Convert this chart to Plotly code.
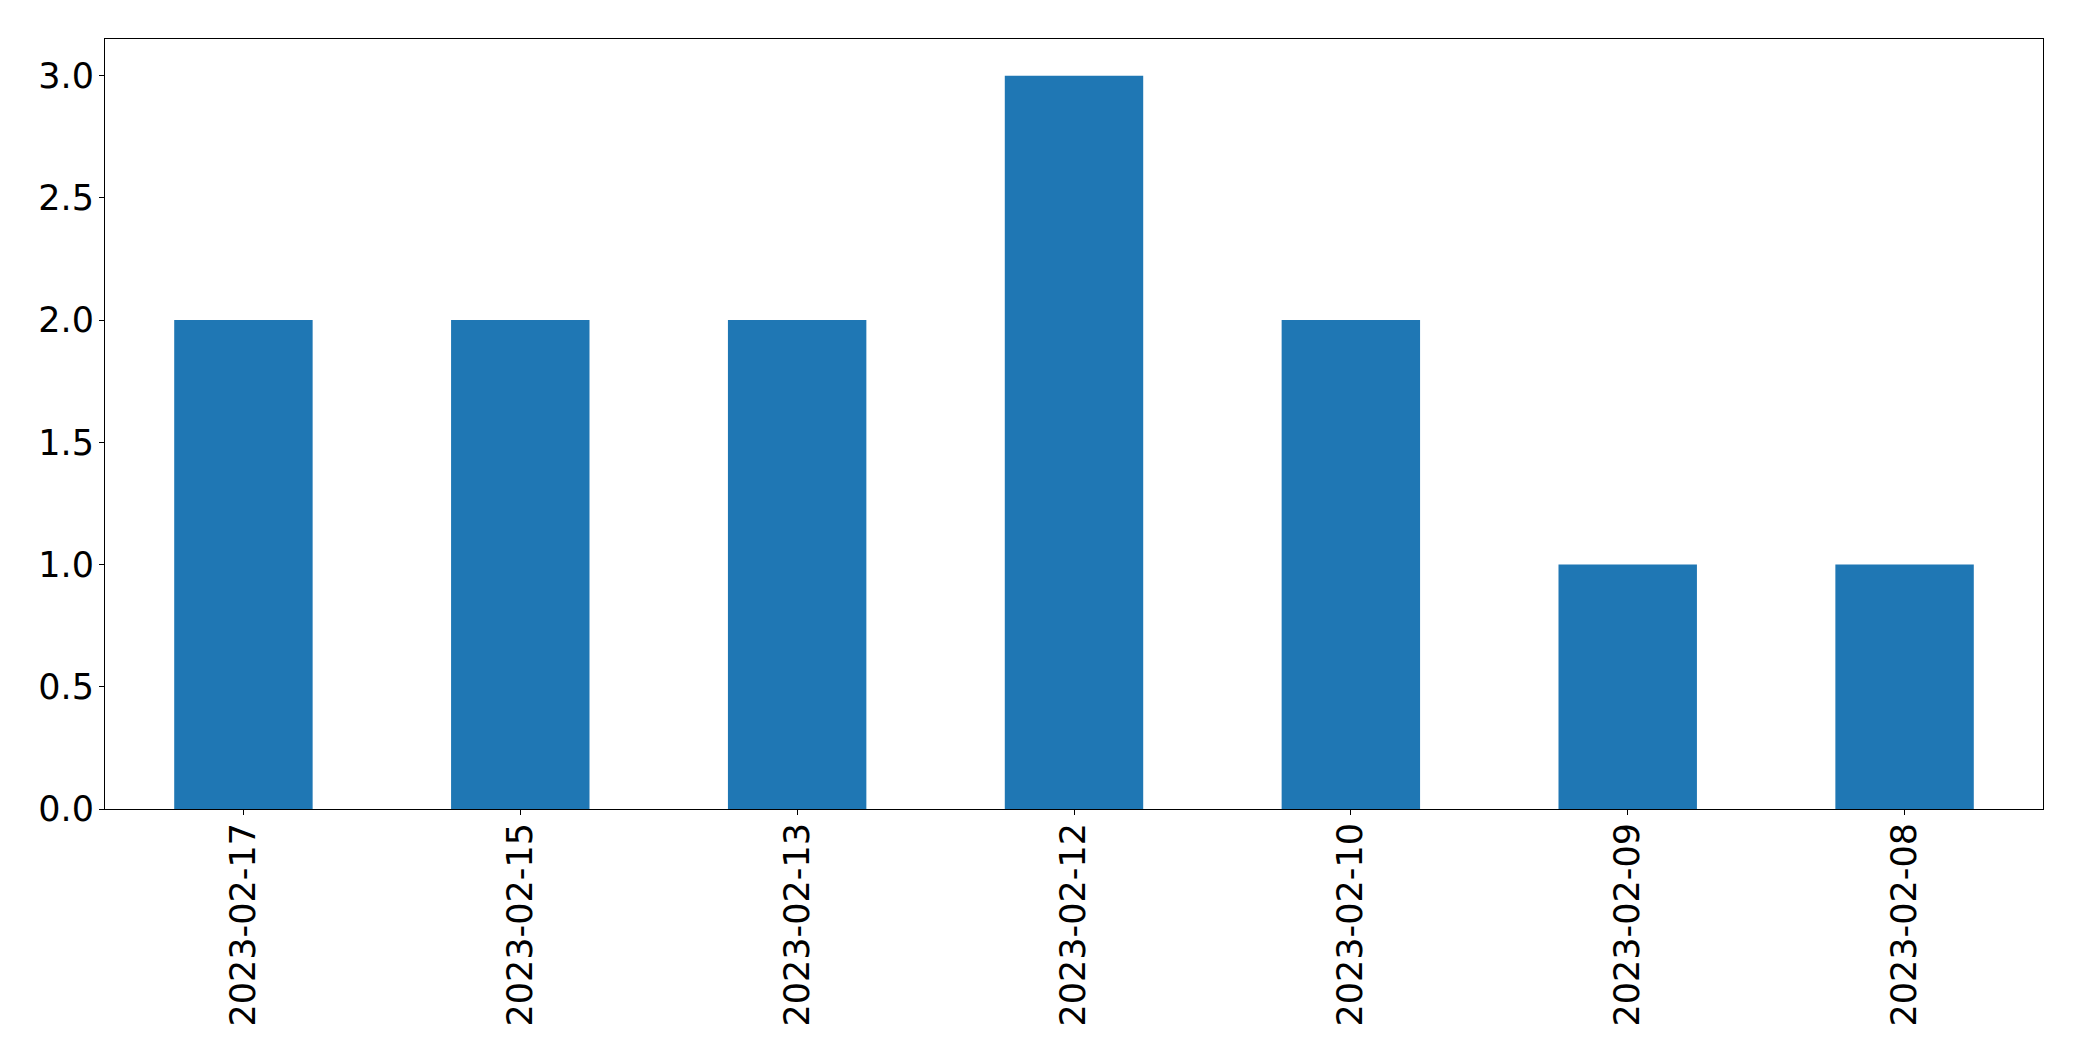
import plotly.graph_objects as go

dates = ["2023-02-17", "2023-02-15", "2023-02-13", "2023-02-12", "2023-02-10", "2023-02-09", "2023-02-08"]
counts = [2, 2, 2, 3, 2, 1, 1]
y_ticks = [0.0, 0.5, 1.0, 1.5, 2.0, 2.5, 3.0]
y_tick_labels = ["0.0", "0.5", "1.0", "1.5", "2.0", "2.5", "3.0"]

fig = go.Figure(
    go.Bar(x=list(range(len(dates))), y=counts, width=0.5, marker=dict(color="#1f77b4", line=dict(width=0)))
)

font = dict(family="DejaVu Sans", size=35, color="black")
fig.update_layout(
    width=2074, height=1053,
    margin=dict(l=97, r=39, t=31, b=252, pad=0),
    paper_bgcolor="white", plot_bgcolor="white",
    showlegend=False,
    font=font,
)
fig.update_xaxes(
    range=[-0.5, len(dates) - 0.5],
    tickmode="array", tickvals=list(range(len(dates))), ticktext=dates,
    tickangle=-90, ticks="outside", ticklen=5, tickwidth=1.1, tickcolor="black",
    ticklabelstandoff=-6,
    showline=True, linecolor="black", linewidth=1.1, mirror=True,
    showgrid=False, zeroline=False, tickfont=font,
)
fig.update_yaxes(
    range=[0, 3.15],
    tickmode="array", tickvals=y_ticks, ticktext=y_tick_labels,
    ticks="outside", ticklen=5, tickwidth=1.1, tickcolor="black",
    ticklabelstandoff=-2,
    showline=True, linecolor="black", linewidth=1.1, mirror=True,
    showgrid=False, zeroline=False, tickfont=font,
)

fig.write_html("out.html")
